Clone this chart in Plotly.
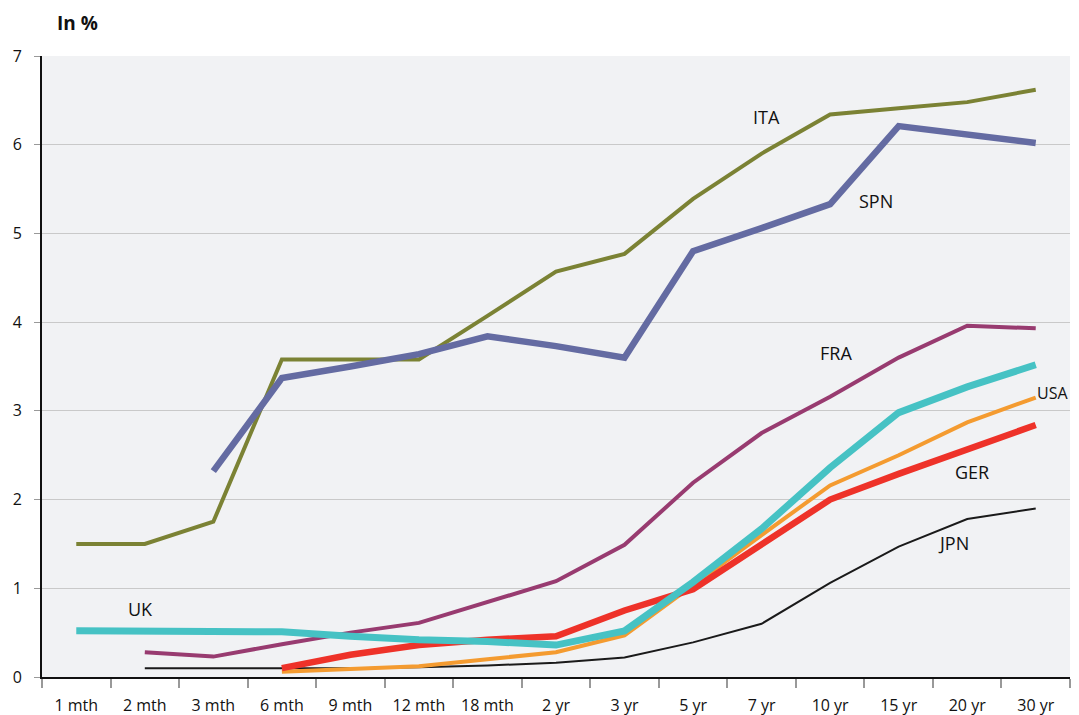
import plotly.graph_objects as go

categories = ["1 mth", "2 mth", "3 mth", "6 mth", "9 mth", "12 mth", "18 mth",
              "2 yr", "3 yr", "5 yr", "7 yr", "10 yr", "15 yr", "20 yr", "30 yr"]

ita = [1.5, 1.5, 1.75, 3.58, 3.58, 3.58, 4.07, 4.57, 4.77, 5.39, 5.9, 6.34, 6.41, 6.48, 6.62]
spn = [None, None, 2.32, 3.37, 3.5, 3.64, 3.84, 3.73, 3.6, 4.8, 5.06, 5.33, 6.21, 6.12, 6.02]
jpn = [None, 0.1, 0.1, 0.1, 0.1, 0.11, 0.13, 0.16, 0.22, 0.39, 0.6, 1.06, 1.47, 1.78, 1.9]
fra = [None, 0.28, 0.23, 0.37, 0.5, 0.61, 0.85, 1.08, 1.49, 2.19, 2.75, 3.16, 3.6, 3.96, 3.93]
usa = [None, None, None, 0.06, 0.09, 0.12, 0.2, 0.28, 0.47, 1.04, 1.6, 2.16, 2.5, 2.87, 3.15]
ger = [None, None, None, 0.1, 0.25, 0.36, 0.42, 0.46, 0.75, 0.99, 1.5, 2.0, 2.29, 2.56, 2.84]
uk = [0.52, 0.52, 0.51, 0.51, 0.46, 0.42, 0.4, 0.36, 0.52, 1.07, 1.67, 2.36, 2.98, 3.27, 3.52]

series = [
    ("ITA", ita, "#7b8234", 4),
    ("SPN", spn, "#646ba2", 6.5),
    ("JPN", jpn, "#1a1a1a", 2),
    ("FRA", fra, "#983b70", 4),
    ("USA", usa, "#f49b30", 4),
    ("GER", ger, "#ee3229", 6.5),
    ("UK", uk, "#46c2c4", 7),
]

fig = go.Figure()
for name, vals, color, w in series:
    fig.add_trace(go.Scatter(x=categories, y=vals, mode="lines", name=name,
                             line=dict(color=color, width=w),
                             connectgaps=False, hoverinfo="x+y+name"))

labels = [
    ("ITA", "10 yr", 6.31, -64),
    ("SPN", "15 yr", 5.36, -23),
    ("FRA", "15 yr", 3.65, -63),
    ("GER", "20 yr", 2.31, 5),
    ("JPN", "20 yr", 1.51, -14),
    ("UK", "2 mth", 0.77, -4),
]
for text, xc, yv, dx in labels:
    fig.add_annotation(x=xc, y=yv, text=text, showarrow=False, xshift=dx,
                       font=dict(size=18, color="#111111"))
# USA label sits at the right edge, anchored so it stays inside the visible area
fig.add_annotation(x="30 yr", y=3.2, text="USA", showarrow=False, xshift=34,
                   xanchor="right", font=dict(size=16, color="#111111"))

fig.add_annotation(xref="paper", yref="paper", x=0.0126, y=1.053, xanchor="left",
                   yanchor="middle", text="<b>In %</b>", showarrow=False,
                   font=dict(size=19, color="#111111"))

fig.update_layout(
    width=1071, height=707,
    margin=dict(l=34, r=9, t=48, b=38, autoexpand=False),
    paper_bgcolor="white",
    plot_bgcolor="#f1f2f4",
    showlegend=False,
    font=dict(family="Open Sans, Noto Sans, sans-serif", color="#111111"),
    xaxis=dict(type="category", tickson="boundaries", ticks="outside", ticklen=9,
               tickcolor="#999999", tickwidth=1.5, showline=True, linecolor="#111111",
               linewidth=2, showgrid=False, tickfont=dict(size=16),
               ticklabelstandoff=13, automargin=False,
               range=[-0.5, 14.5], fixedrange=True),
    yaxis=dict(range=[0, 7], dtick=1, ticks="outside", ticklen=6, tickcolor="#999999",
               showline=True, linecolor="#111111", linewidth=2, showgrid=True,
               gridcolor="#c9c9c9", gridwidth=1.2, zeroline=False, automargin=False,
               tickfont=dict(size=16), ticklabelstandoff=9, fixedrange=True),
)

fig.write_html("out.html")
